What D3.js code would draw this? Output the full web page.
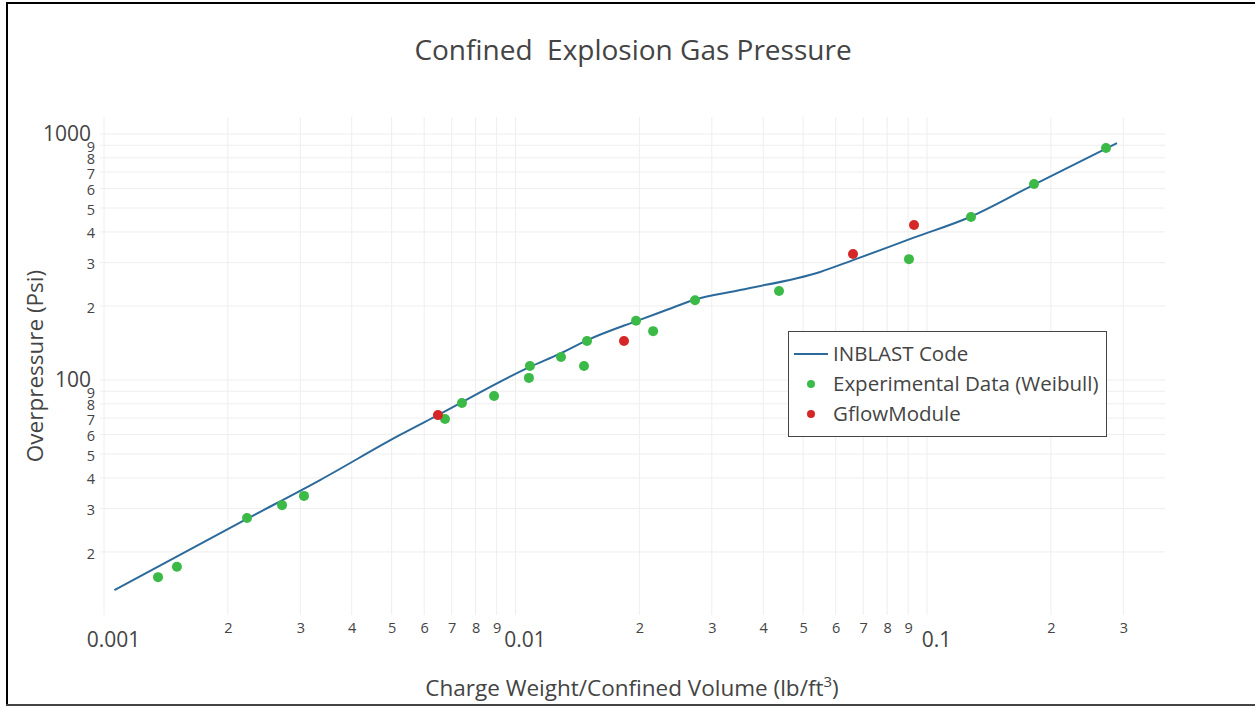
<!DOCTYPE html>
<html>
<head>
<meta charset="utf-8">
<script src="https://cdn.jsdelivr.net/npm/d3@7"></script>
<style>
  body { margin: 0; background: #fff; }
  svg { display: block; font-family: "Open Sans", sans-serif; }
</style>
</head>
<body>
<div id="chart"></div>
<script>
// INBLAST code curve (x, y)
const lineX = [0.00106, 0.00223, 0.00335, 0.00524, 0.00648, 0.01084, 0.01283, 0.01492, 0.01974,
  0.02335, 0.02699, 0.03512, 0.0550, 0.0661, 0.0925, 0.1272, 0.1810, 0.2895];
const lineY = [14.0, 27.3, 39.2, 59.8, 72.0, 113, 128, 145, 174,
  193, 211, 232, 275, 307, 378, 460, 620, 919];

// Experimental data (Weibull)
const expX = [0.001353, 0.001504, 0.002226, 0.002708, 0.003062, 0.006741, 0.00741, 0.00887, 0.01078, 0.01084,
  0.0129, 0.01467, 0.01492, 0.01963, 0.0216, 0.02731, 0.04369, 0.0904, 0.1279, 0.182, 0.2723];
const expY = [15.8, 17.4, 27.5, 31.0, 33.8, 69.4, 80.6, 86.1, 102, 114,
  124, 114, 144, 174, 158, 211, 230, 310, 460, 626, 877];

// GflowModule
const gflowX = [0.00648, 0.01835, 0.0661, 0.093];
const gflowY = [72.0, 144, 325, 427];

const xTicks = [0.001, 0.002, 0.003, 0.004, 0.005, 0.006, 0.007, 0.008, 0.009,
  0.01, 0.02, 0.03, 0.04, 0.05, 0.06, 0.07, 0.08, 0.09, 0.1, 0.2, 0.3];
const yTicks = [20, 30, 40, 50, 60, 70, 80, 90, 100, 200, 300, 400, 500, 600, 700, 800, 900, 1000];

const width = 1255, height = 706;
const plot = { left: 100, right: 1165, top: 117, bottom: 615 };

const svg = d3.select("#chart").append("svg")
  .attr("width", width)
  .attr("height", height);

// frame
svg.append("rect").attr("x", 6).attr("y", 2).attr("width", width - 6).attr("height", 2).attr("fill", "#000");
svg.append("rect").attr("x", 6).attr("y", 2).attr("width", 2).attr("height", height - 2).attr("fill", "#000");
svg.append("rect").attr("x", 6).attr("y", 704).attr("width", width - 6).attr("height", 2).attr("fill", "#444");

// scales: decade widths
const xScale = d3.scaleLog()
  .domain([Math.pow(10, -3 - 4 / 411.5), Math.pow(10, -3 + (1165 - 104) / 411.5)])
  .range([plot.left, plot.right]);
const yScale = d3.scaleLog()
  .domain([Math.pow(10, 3 - (615 - 134) / 246), Math.pow(10, 3 + 17 / 246)])
  .range([plot.bottom, plot.top]);

const isMajor = v => Math.abs(Math.log10(v) - Math.round(Math.log10(v))) < 1e-6;
const digit = v => String(Math.round(v / Math.pow(10, Math.floor(Math.log10(v) + 1e-9))));

// grid
const grid = svg.append("g").attr("class", "grid");
grid.selectAll(".vgrid").data(xTicks).enter().append("line")
  .attr("x1", d => xScale(d)).attr("x2", d => xScale(d))
  .attr("y1", plot.top).attr("y2", plot.bottom)
  .attr("stroke", "#eee").attr("stroke-width", 1);
grid.selectAll(".hgrid").data(yTicks).enter().append("line")
  .attr("x1", plot.left).attr("x2", plot.right)
  .attr("y1", d => yScale(d)).attr("y2", d => yScale(d))
  .attr("stroke", "#eee").attr("stroke-width", 1);

// x axis labels
const xAxis = svg.append("g").attr("transform", `translate(0, ${plot.bottom})`)
  .call(d3.axisBottom(xScale).tickValues(xTicks).tickSize(0).tickFormat(d => isMajor(d) ? String(d) : digit(d)));
xAxis.select(".domain").remove();
xAxis.selectAll(".tick text")
  .attr("fill", "#444")
  .attr("font-family", "Open Sans, sans-serif")
  .attr("font-size", d => isMajor(d) ? 21 : 14.5)
  .attr("dy", 0)
  .attr("y", d => isMajor(d) ? 32 : 18)
  .attr("dx", d => isMajor(d) ? 9 : 0);

// y axis labels
const yAxis = svg.append("g").attr("transform", `translate(${plot.left}, 0)`)
  .call(d3.axisLeft(yScale).tickValues(yTicks).tickSize(0).tickFormat(d => isMajor(d) ? String(d) : digit(d)));
yAxis.select(".domain").remove();
yAxis.selectAll(".tick text")
  .attr("fill", "#444")
  .attr("font-family", "Open Sans, sans-serif")
  .attr("font-size", d => isMajor(d) ? 21 : 14.5)
  .attr("x", d => isMajor(d) ? -9 : -5)
  .attr("dy", d => isMajor(d) ? "0.3em" : "0.42em");

// title and axis titles
svg.append("text").attr("x", 633).attr("y", 60).attr("text-anchor", "middle")
  .attr("fill", "#444").attr("font-size", 28)
  .style("white-space", "pre")
  .text("Confined  Explosion Gas Pressure");

const xTitle = svg.append("text").attr("x", 632).attr("y", 696).attr("text-anchor", "middle")
  .attr("fill", "#444").attr("font-size", 22.5);
xTitle.append("tspan").text("Charge Weight/Confined Volume (lb/ft");
xTitle.append("tspan").attr("font-size", 15).attr("dy", -9).text("3");
xTitle.append("tspan").attr("dy", 9).text(")");

svg.append("text")
  .attr("transform", "translate(43, 366) rotate(-90)")
  .attr("text-anchor", "middle")
  .attr("fill", "#444").attr("font-size", 22.5)
  .text("Overpressure (Psi)");

// INBLAST line
const lineData = lineX.map((x, i) => ({ x, y: lineY[i] }));
svg.append("path")
  .datum(lineData)
  .attr("fill", "none")
  .attr("stroke", "#2c6a9b")
  .attr("stroke-width", 2)
  .attr("d", d3.line().x(d => xScale(d.x)).y(d => yScale(d.y)).curve(d3.curveMonotoneX));

// points
const expData = expX.map((x, i) => ({ x, y: expY[i] }));
svg.append("g").selectAll("circle").data(expData).enter().append("circle")
  .attr("cx", d => xScale(d.x)).attr("cy", d => yScale(d.y)).attr("r", 5)
  .attr("fill", "#3cba47");

const gflowData = gflowX.map((x, i) => ({ x, y: gflowY[i] }));
svg.append("g").selectAll("circle").data(gflowData).enter().append("circle")
  .attr("cx", d => xScale(d.x)).attr("cy", d => yScale(d.y)).attr("r", 5)
  .attr("fill", "#d62728");

// legend
const legend = svg.append("g").attr("transform", "translate(788, 331)");
legend.append("rect").attr("x", 0.5).attr("y", 0.5).attr("width", 318).attr("height", 105)
  .attr("fill", "#fff").attr("stroke", "#444").attr("stroke-width", 1);
const items = [
  { label: "INBLAST Code", type: "line", color: "#2c6a9b" },
  { label: "Experimental Data (Weibull)", type: "dot", color: "#3cba47" },
  { label: "GflowModule", type: "dot", color: "#d62728" }
];
items.forEach((it, i) => {
  const yy = 23 + i * 30;
  if (it.type === "line") {
    legend.append("line").attr("x1", 6).attr("x2", 40).attr("y1", yy).attr("y2", yy)
      .attr("stroke", it.color).attr("stroke-width", 2);
  } else {
    legend.append("circle").attr("cx", 23).attr("cy", yy).attr("r", 4).attr("fill", it.color);
  }
  legend.append("text").attr("x", 45).attr("y", yy).attr("dy", "0.35em")
    .attr("fill", "#444").attr("font-size", 20.5).text(it.label);
});
</script>
</body>
</html>
